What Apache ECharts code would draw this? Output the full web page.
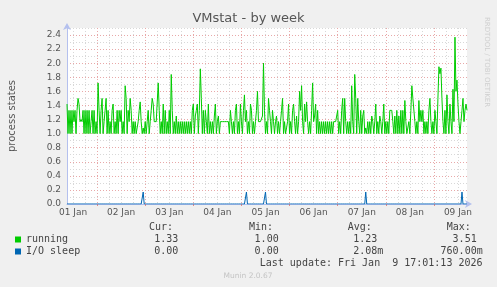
<!DOCTYPE html>
<html><head><meta charset="utf-8">
<script src="https://cdn.jsdelivr.net/npm/echarts@6/dist/echarts.min.js"></script>
<style>html,body{margin:0;padding:0;background:#f0f0f0}#c{width:497px;height:287px}</style>
</head><body><div id="c"></div>
<script>
// first sample: 01 Jan 09:00, one sample every 30 minutes (hours since 01 Jan 00:00)
const startHour = 9;
const stepHours = 0.5;
const dayLabels = ['01 Jan','02 Jan','03 Jan','04 Jan','05 Jan','06 Jan','07 Jan','08 Jan','09 Jan'];
const yTickLabels = ['0.0','0.2','0.4','0.6','0.8','1.0','1.2','1.4','1.6','1.8','2.0','2.2','2.4'];
const seriesNames = ['running','I/O sleep'];
const running = [
1.42,1.0,1.33,1.0,1.33,1.0,1.33,1.17,1.33,1.0,1.33,1.5,1.42,1.17,1.2,1.17,1.33,1.0,1.33,1.0,
1.33,1.0,1.33,1.0,1.17,1.33,1.0,1.33,1.0,1.17,1.0,1.72,1.33,1.0,1.33,1.5,1.0,1.17,1.33,1.5,
1.0,1.33,1.0,1.17,1.0,1.33,1.42,1.0,1.17,1.0,1.33,1.0,1.33,1.17,1.33,1.0,1.17,1.0,1.68,1.5,
1.0,1.33,1.17,1.5,1.33,1.0,1.17,1.0,1.17,1.0,1.0,1.17,1.33,1.45,1.17,1.0,1.08,1.0,1.17,1.0,
1.17,1.33,1.0,1.17,1.33,1.5,1.42,1.17,1.17,1.17,1.17,1.72,1.33,1.0,1.17,1.0,1.42,1.0,1.33,1.0,
1.17,1.0,1.33,1.0,1.84,1.33,1.0,1.17,1.0,1.25,1.0,1.17,1.0,1.17,1.0,1.17,1.0,1.17,1.0,1.17,
1.0,1.17,1.0,1.17,1.0,1.33,1.42,1.0,1.25,1.33,1.42,1.0,1.33,1.92,1.5,1.0,1.33,1.0,1.33,1.17,
1.0,1.42,1.0,1.17,1.0,1.17,1.0,1.25,1.42,1.0,1.17,1.25,1.0,1.17,1.17,1.17,1.17,1.17,1.17,1.17,
1.17,1.17,1.0,1.33,1.17,1.0,1.17,1.0,1.33,1.42,1.0,1.17,1.0,1.42,1.17,1.0,1.33,1.55,1.17,1.33,
1.0,1.17,1.0,1.42,1.33,1.0,1.17,1.0,1.17,1.33,1.6,1.17,1.17,1.17,1.17,1.25,2.0,1.33,1.0,1.17,
1.0,1.5,1.33,1.17,1.0,1.33,1.17,1.0,1.17,1.25,1.0,1.17,1.0,1.17,1.33,1.5,1.0,1.17,1.0,1.08,
1.17,1.42,1.0,1.17,1.0,1.33,1.42,1.17,1.0,1.25,1.0,1.17,1.6,1.33,1.68,1.17,1.0,1.42,1.17,1.45,
1.17,1.0,1.17,1.0,1.33,1.72,1.17,1.25,1.42,1.0,1.33,1.0,1.17,1.0,1.17,1.0,1.17,1.0,1.17,1.0,
1.17,1.0,1.17,1.0,1.17,1.0,1.17,1.17,1.17,1.17,1.33,1.0,1.17,1.0,1.33,1.5,1.0,1.5,1.17,1.0,
1.17,1.0,1.17,1.0,1.68,1.17,1.0,1.84,1.5,1.0,1.5,1.17,1.0,1.33,1.0,1.25,1.33,1.0,1.08,1.0,
1.17,1.0,1.17,1.0,1.25,1.17,1.0,1.17,1.42,1.0,1.17,1.0,1.25,1.17,1.0,1.17,1.42,1.0,1.17,1.0,
1.17,1.0,1.33,1.33,1.33,1.17,1.0,1.25,1.0,1.33,1.0,1.25,1.0,1.33,1.0,1.33,1.0,1.47,1.17,1.0,
1.0,1.17,1.0,1.33,1.68,1.5,1.5,1.17,1.0,1.17,1.0,1.47,1.17,1.33,1.17,1.33,1.0,1.17,1.0,1.17,
1.0,1.33,1.5,1.17,1.0,1.17,1.0,1.33,1.17,1.0,1.5,1.95,1.85,1.93,1.5,1.17,1.0,1.33,1.0,1.55,
1.17,1.0,1.42,1.17,1.0,1.63,1.17,2.37,1.6,1.76,1.42,1.17,1.0,1.17,1.33,1.5,1.17,1.33,1.42,1.33
];
const ioSleep = [
0,0,0,0,0,0,0,0,0,0,0,0,0,0,0,0,0,0,0,0,0,0,0,0,0,0,0,0,0,0,0,0,0,0,0,0,0,0,0,0,
0,0,0,0,0,0,0,0,0,0,0,0,0,0,0,0,0,0,0,0,0,0,0,0,0,0,0,0,0,0,0,0,0,0,0,0,0.17,0,0,0,
0,0,0,0,0,0,0,0,0,0,0,0,0,0,0,0,0,0,0,0,0,0,0,0,0,0,0,0,0,0,0,0,0,0,0,0,0,0,0,0,
0,0,0,0,0,0,0,0,0,0,0,0,0,0,0,0,0,0,0,0,0,0,0,0,0,0,0,0,0,0,0,0,0,0,0,0,0,0,0,0,
0,0,0,0,0,0,0,0,0,0,0,0,0,0,0,0,0,0,0,0.17,0,0,0,0,0,0,0,0,0,0,0,0,0,0,0,0,0,0,0.17,0,
0,0,0,0,0,0,0,0,0,0,0,0,0,0,0,0,0,0,0,0,0,0,0,0,0,0,0,0,0,0,0,0,0,0,0,0,0,0,0,0,
0,0,0,0,0,0,0,0,0,0,0,0,0,0,0,0,0,0,0,0,0,0,0,0,0,0,0,0,0,0,0,0,0,0,0,0,0,0,0,0,
0,0,0,0,0,0,0,0,0,0,0,0,0,0,0,0,0,0,0.17,0,0,0,0,0,0,0,0,0,0,0,0,0,0,0,0,0,0,0,0,0,
0,0,0,0,0,0,0,0,0,0,0,0,0,0,0,0,0,0,0,0,0,0,0,0,0,0,0,0,0,0,0,0,0,0,0,0,0,0,0,0,
0,0,0,0,0,0,0,0,0,0,0,0,0,0,0,0,0,0,0,0,0,0,0,0,0,0,0,0,0,0,0,0,0,0,0.17,0,0,0,0,0
];
const statHeaders = ['Cur:','Min:','Avg:','Max:'];
const statsRunning = ['  1.33 ','  1.00 ','  1.23 ','  3.51 '];
const statsIO = ['  0.00 ','  0.00 ','  2.08m','760.00m'];
const lastUpdate = 'Last update: Fri Jan  9 17:01:13 2026';

const cats = running.map((_, i) => String(startHour + i * stepHours));
const hourOf = i => startHour + i * stepHours;
const isDay = i => hourOf(i) % 24 === 0;
const isSix = i => hourOf(i) % 6 === 0 && hourOf(i) % 24 !== 0;
const isNoon = i => hourOf(i) % 24 === 12;

const chart = echarts.init(document.getElementById('c'), null, {renderer:'canvas'});
const mono = 'DejaVu Sans Mono';
const sans = 'DejaVu Sans';
const axisBlue = '#b4c0ee';
const colX = [149, 249, 347.7, 446.7];
const colRight = [184.3, 284.7, 383.3, 482.7];
const gfx = [];
statHeaders.forEach((h, k) => gfx.push({type:'text', left:colX[k], top:222, style:{text:h, font:'10px ' + mono, fill:'#444'}}));
statsRunning.forEach((s, k) => gfx.push({type:'text', x:colRight[k], y:234, style:{text:s, font:'10px ' + mono, fill:'#444', align:'right', verticalAlign:'top'}}));
statsIO.forEach((s, k) => gfx.push({type:'text', x:colRight[k], y:246, style:{text:s, font:'10px ' + mono, fill:'#444', align:'right', verticalAlign:'top'}}));
gfx.push({type:'text', x:482.5, y:258, style:{text:lastUpdate, font:'10px ' + mono, fill:'#444', align:'right', verticalAlign:'top'}});
gfx.push({type:'text', x:248, y:272, style:{text:'Munin 2.0.67', font:'7.5px ' + sans, fill:'#c4c4c4', align:'center', verticalAlign:'top'}});
gfx.push({type:'text', x:486.5, y:62, rotation:-Math.PI/2, style:{text:'RRDTOOL / TOBI OETIKER', font:'7px ' + sans, fill:'#cfcfcf', align:'center', verticalAlign:'middle'}});

chart.setOption({
  animation:false,
  backgroundColor:'#f0f0f0',
  title:{text:'VMstat - by week', left:'center', top:12, padding:0,
    textStyle:{fontFamily:sans, fontSize:13, fontWeight:'normal', color:'#555'}},
  grid:{left:67, right:30, top:28, bottom:83, containLabel:false, outerBoundsMode:'none',
    show:true, backgroundColor:'#ffffff', borderWidth:0},
  legend:{left:15, top:233.5, orient:'vertical', padding:0, itemWidth:6, itemHeight:6, itemGap:0, icon:'rect',
    data:seriesNames, selectedMode:false,
    textStyle:{fontFamily:mono, fontSize:10, color:'#444', lineHeight:12}},
  xAxis:[{
    type:'category', data:cats, boundaryGap:false, z:1,
    axisLine:{show:true, lineStyle:{color:axisBlue, width:1}, symbol:['none','arrow'], symbolSize:[6,7], symbolOffset:[0,5]},
    axisTick:{show:true, interval:(i)=>isDay(i), length:2, lineStyle:{color:'#e08a8a'}},
    axisLabel:{interval:(i)=>isNoon(i), formatter:(v)=>dayLabels[Math.floor(Number(v)/24)], color:'#555', fontSize:9, fontFamily:sans, margin:4},
    splitLine:{show:true, interval:(i)=>isDay(i), lineStyle:{color:'#e8a8a8', type:[1,2], width:1}}
  },{
    type:'category', data:cats, boundaryGap:false, position:'bottom', z:0,
    axisLine:{show:false}, axisTick:{show:false}, axisLabel:{show:false},
    splitLine:{show:true, interval:(i)=>isSix(i), lineStyle:{color:'#d8d8d8', type:[1,2], width:1}}
  }],
  yAxis:[{
    type:'value', min:0, max:2.5, interval:0.2, z:1,
    name:'process states', nameLocation:'middle', nameGap:50,
    nameTextStyle:{color:'#555', fontSize:10, fontFamily:sans},
    axisLine:{show:true, lineStyle:{color:axisBlue, width:1}, symbol:['none','arrow'], symbolSize:[6,7], symbolOffset:[0,5]},
    axisTick:{show:false},
    axisLabel:{color:'#555', fontSize:9, fontFamily:sans, margin:6, showMaxLabel:false,
      formatter:(v)=>yTickLabels[Math.round(v/0.2)] || ''},
    splitLine:{show:true, showMaxLine:false, lineStyle:{color:'#e8a8a8', type:[1,2], width:1}}
  },{
    type:'value', min:0, max:2.5, interval:0.1, position:'left', z:0,
    axisLine:{show:false}, axisTick:{show:false}, axisLabel:{show:false},
    splitLine:{show:true, lineStyle:{color:'#d8d8d8', type:[1,2], width:1}}
  }],
  series:[
    {name:seriesNames[0], type:'line', data:running, symbol:'none', smooth:false, xAxisIndex:0, yAxisIndex:0,
      lineStyle:{width:1, color:'#00cc00'}, itemStyle:{color:'#00cc00'}, z:3},
    {name:seriesNames[1], type:'line', data:ioSleep, symbol:'none', smooth:false, xAxisIndex:0, yAxisIndex:0,
      lineStyle:{width:1, color:'#0066b3'}, itemStyle:{color:'#0066b3'}, z:4}
  ],
  graphic:gfx
});
</script></body></html>
